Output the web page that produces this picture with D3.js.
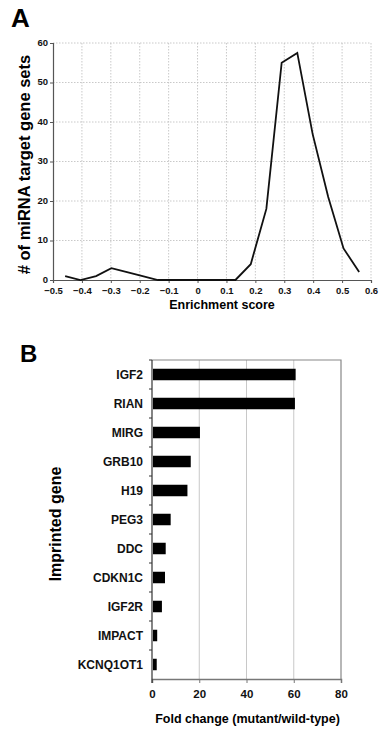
<!DOCTYPE html>
<html>
<head>
<meta charset="utf-8">
<script src="https://cdn.jsdelivr.net/npm/d3@7"></script>
<style>
  body { margin: 0; background: #fff; }
  svg { display: block; font-family: "Liberation Sans", Arial, sans-serif; }
</style>
</head>
<body>
<div id="chart"></div>
<script>
// Panel A: enrichment score distribution
const enrichScores = [-0.458, -0.405, -0.351, -0.298, -0.244, -0.19, -0.137, -0.083, -0.03, 0.024,
                      0.077, 0.131, 0.184, 0.238, 0.291, 0.345, 0.398, 0.452, 0.505, 0.559];
const geneSetCounts = [1, 0, 1, 3, 2, 1, 0, 0, 0, 0,
                       0, 0, 4, 18, 55, 57.5, 37, 21, 8, 2];
const xTicksA = [-0.5, -0.4, -0.3, -0.2, -0.1, 0, 0.1, 0.2, 0.3, 0.4, 0.5, 0.6];
const yTicksA = [0, 10, 20, 30, 40, 50, 60];

// Panel B: imprinted genes fold change
const genes = ['IGF2', 'RIAN', 'MIRG', 'GRB10', 'H19', 'PEG3', 'DDC', 'CDKN1C', 'IGF2R', 'IMPACT', 'KCNQ1OT1'];
const foldChange = [60.8, 60.5, 20.3, 16.4, 15, 7.9, 5.8, 5.5, 4.2, 2.2, 2.0];
const xTicksB = [0, 20, 40, 60, 80];

const width = 381, height = 731;
const svg = d3.select('#chart').append('svg')
  .attr('width', width)
  .attr('height', height);

// ---------- Panel A ----------
const a = { left: 53, right: 371, top: 43, bottom: 280 };
const xA = d3.scaleLinear().domain([-0.5, 0.6]).range([a.left, a.right]);
const yA = d3.scaleLinear().domain([0, 60]).range([a.bottom, a.top]);

svg.append('text').attr('x', 11).attr('y', 27)
  .attr('font-size', 26).attr('font-weight', 'bold').text('A');

// dotted grid
const gridA = svg.append('g').attr('stroke', '#bbb').attr('stroke-width', 0.8)
  .attr('stroke-dasharray', '1.5,1.5');
gridA.selectAll('.vx').data(xTicksA.slice(1)).join('line')
  .attr('x1', d => xA(d)).attr('x2', d => xA(d))
  .attr('y1', a.top).attr('y2', a.bottom);
gridA.selectAll('.hy').data(yTicksA.slice(1)).join('line')
  .attr('x1', a.left).attr('x2', a.right)
  .attr('y1', d => yA(d)).attr('y2', d => yA(d));

// axes
svg.append('g')
  .attr('transform', `translate(0,${a.bottom})`)
  .call(d3.axisBottom(xA).tickValues(xTicksA).tickSize(3).tickPadding(4)
    .tickFormat(d => d === 0 ? '0' : d3.format('.1f')(d)))
  .call(g => g.select('.domain').attr('stroke', '#555').attr('stroke-width', 1.2))
  .call(g => g.selectAll('.tick line').attr('stroke', '#555'))
  .call(g => g.selectAll('.tick text').attr('font-size', 9.5).attr('font-weight', 'bold')
    .attr('fill', '#111').attr('font-family', null));

svg.append('g')
  .attr('transform', `translate(${a.left},0)`)
  .call(d3.axisLeft(yA).tickValues(yTicksA).tickSize(3).tickPadding(2))
  .call(g => g.select('.domain').attr('stroke', '#555').attr('stroke-width', 1.2))
  .call(g => g.selectAll('.tick line').attr('stroke', '#555'))
  .call(g => g.selectAll('.tick text').attr('font-size', 9.5).attr('font-weight', 'bold')
    .attr('fill', '#111').attr('font-family', null).attr('dy', '0.25em'));

// line
const lineA = d3.line()
  .x((d, i) => xA(enrichScores[i]))
  .y(d => yA(d));
svg.append('path')
  .datum(geneSetCounts)
  .attr('fill', 'none')
  .attr('stroke', '#111')
  .attr('stroke-width', 1.8)
  .attr('stroke-linejoin', 'miter')
  .attr('d', lineA);

svg.append('text')
  .attr('x', (a.left + a.right) / 2 + 10).attr('y', 309)
  .attr('text-anchor', 'middle').attr('font-size', 12.5).attr('font-weight', 'bold')
  .text('Enrichment score');

svg.append('text')
  .attr('transform', `translate(30,${(a.top + a.bottom) / 2 + 3}) rotate(-90)`)
  .attr('text-anchor', 'middle').attr('font-size', 16.5).attr('font-weight', 'bold')
  .text('# of miRNA target gene sets');

// ---------- Panel B ----------
const b = { left: 152, right: 341, top: 360, bottom: 679 };
const xB = d3.scaleLinear().domain([0, 80]).range([b.left, b.right]);
const yBand = d3.scaleBand().domain(genes).range([b.top, b.bottom]);

svg.append('text').attr('x', 20).attr('y', 362)
  .attr('font-size', 24).attr('font-weight', 'bold').text('B');

// grid lines
svg.append('g').selectAll('line').data(xTicksB.slice(1, -1)).join('line')
  .attr('x1', d => xB(d)).attr('x2', d => xB(d))
  .attr('y1', b.top).attr('y2', b.bottom)
  .attr('stroke', '#c8c8c8').attr('stroke-width', 1);

// frame top and right
svg.append('path')
  .attr('d', `M${b.left},${b.top}H${b.right}V${b.bottom}`)
  .attr('fill', 'none').attr('stroke', '#888').attr('stroke-width', 1.2);

// bars
svg.append('g').selectAll('rect').data(genes).join('rect')
  .attr('x', b.left + 1)
  .attr('y', d => yBand(d) + yBand.bandwidth() / 2 - 5.75)
  .attr('height', 11.5)
  .attr('width', (d, i) => xB(foldChange[i]) - b.left - 1)
  .attr('fill', '#000');

// bottom axis
svg.append('g')
  .attr('transform', `translate(0,${b.bottom})`)
  .call(d3.axisBottom(xB).tickValues(xTicksB).tickSize(4).tickPadding(7))
  .call(g => g.select('.domain').attr('stroke', '#777').attr('stroke-width', 1.5))
  .call(g => g.selectAll('.tick line').attr('stroke', '#777'))
  .call(g => g.selectAll('.tick text').attr('font-size', 11.5).attr('font-weight', 'bold')
    .attr('fill', '#111').attr('font-family', null));

// left axis with ticks at category boundaries
const leftAxis = svg.append('g');
leftAxis.append('line')
  .attr('x1', b.left).attr('x2', b.left).attr('y1', b.top).attr('y2', b.bottom + 4)
  .attr('stroke', '#333').attr('stroke-width', 1.2);
leftAxis.selectAll('.bt').data(genes).join('line')
  .attr('x1', b.left - 3).attr('x2', b.left)
  .attr('y1', d => yBand(d)).attr('y2', d => yBand(d))
  .attr('stroke', '#333');
leftAxis.selectAll('text').data(genes).join('text')
  .attr('x', 143)
  .attr('y', d => yBand(d) + yBand.bandwidth() / 2)
  .attr('dy', '0.36em')
  .attr('text-anchor', 'end')
  .attr('font-size', 12).attr('font-weight', 'bold').attr('fill', '#111')
  .text(d => d);

svg.append('text')
  .attr('x', (b.left + b.right) / 2 + 1).attr('y', 723)
  .attr('text-anchor', 'middle').attr('font-size', 12.5).attr('font-weight', 'bold')
  .text('Fold change (mutant/wild-type)');

svg.append('text')
  .attr('transform', `translate(61,524) rotate(-90)`)
  .attr('text-anchor', 'middle').attr('font-size', 16).attr('font-weight', 'bold')
  .text('Imprinted gene');
</script>
</body>
</html>
